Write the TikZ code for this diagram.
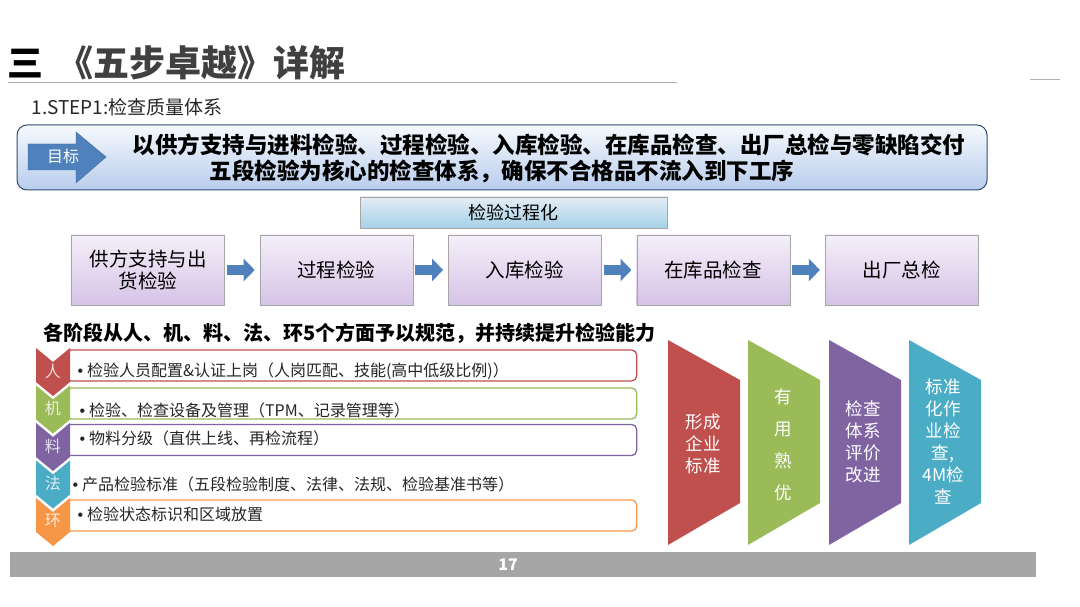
\documentclass[tikz,border=0pt]{standalone}
\usepackage{fontspec}
\setmainfont{Noto Sans CJK SC}
\newfontfamily\bulletfont{Liberation Sans}
\usepackage{xcolor}
\usepackage{tikz}
\usetikzlibrary{arrows.meta, positioning, calc}
\definecolor{StepBlue}{RGB}{79,129,189}
\definecolor{StepRed}{RGB}{192,80,77}
\definecolor{StepGreen}{RGB}{155,187,89}
\definecolor{StepPurple}{RGB}{128,100,162}
\definecolor{StepTeal}{RGB}{75,172,198}
\definecolor{StepOrange}{RGB}{247,150,70}
\definecolor{StepGray}{RGB}{166,166,166}
\definecolor{TitleGray}{RGB}{64,64,64}
\definecolor{GoalTop}{RGB}{246,249,253}
\definecolor{GoalBottom}{RGB}{184,205,236}
\definecolor{StageTop}{RGB}{244,239,249}
\definecolor{StageBottom}{RGB}{214,195,230}
\newcommand{\rowdot}{{\bulletfont •}\hspace{4pt}}

\begin{document}
\begin{tikzpicture}[x=1pt, y=-1pt,
  stagebox/.style={draw=black!35, top color=StageTop, bottom color=StageBottom,
    minimum width=153pt, minimum height=70pt, align=center,
    font=\fontsize{19.5}{22}\selectfont},
  flowarrow/.style={draw=StepBlue, line width=10pt,
    -{Triangle[length=11pt, width=22pt]}, shorten <=2pt, shorten >=5pt},
  rowbox/.style={draw=#1, line width=1.3pt, rounded corners=5pt, fill=white,
    minimum width=571pt, minimum height=31pt, anchor=west},
  rowtext/.style={anchor=west, font=\fontsize{16}{19}\selectfont, text=black!85},
  sidetext/.style={text=white, align=center, font=\fontsize{17.5}{22}\selectfont}
]
\useasboundingbox (0,0) rectangle (1080,607);

% title
\node[anchor=west, font=\fontsize{36}{40}\selectfont\bfseries, text=TitleGray] (title) at (4,63)
  {{\color{black}三}\hspace{14pt}《五步卓越》详解};
\draw[black!30, line width=1pt] (8,83) -- (677,83);
\draw[black!30, line width=1pt] (1030,80) -- (1060,80);
\node[anchor=west, font=\fontsize{19}{22}\selectfont, text=black!85] (step) at (28,107) {1.STEP1:检查质量体系};

% goal
\node[draw=black!40!StepBlue, line width=1pt, rounded corners=10pt, top color=GoalTop,
      bottom color=GoalBottom, minimum width=970pt, minimum height=65pt] (goal) at (502,157.5) {};
\fill[StepBlue, draw=black!20!StepBlue] (28,144) -- (76,144) -- (76,132) -- (106,157)
  -- (76,183) -- (76,170) -- (28,170) -- cycle;
\node[text=white, font=\fontsize{16}{18}\selectfont] (goaltag) at (63,156) {目标};
\node[font=\fontsize{22.5}{26}\selectfont\bfseries] (goalline1) at (549,145)
  {以供方支持与进料检验、过程检验、入库检验、在库品检查、出厂总检与零缺陷交付};
\node[font=\fontsize{22.5}{26}\selectfont\bfseries] (goalline2) at (502,171)
  {五段检验为核心的检查体系，确保不合格品不流入到下工序};

% process
\node[draw=black!35, top color=white!85!StepBlue, bottom color=white!60!StepBlue!90!cyan,
      minimum width=307pt, minimum height=31pt, font=\fontsize{18}{20}\selectfont] (proc) at (513.5,212.5) {检验过程化};
\node[stagebox] (s1) at (148,270) {供方支持与出\\货检验};
\node[stagebox, right=35pt of s1] (s2) {过程检验};
\node[stagebox, right=35pt of s2] (s3) {入库检验};
\node[stagebox, right=35pt of s3] (s4) {在库品检查};
\node[stagebox, right=35pt of s4] (s5) {出厂总检};
\foreach \a/\b in {s1/s2, s2/s3, s3/s4, s4/s5}
  \draw[flowarrow] (\a) -- (\b);

% 4M1E
\node[anchor=west, font=\fontsize{20}{24}\selectfont\bfseries] (scope) at (40,333)
  {各阶段从人、机、料、法、环5个方面予以规范，并持续提升检验能力};
\node[rowbox=StepRed] (r1) at (65,365.5) {};
\node[rowbox=StepGreen] (r2) at (65,403.5) {};
\node[rowbox=StepPurple] (r3) at (65,440) {};
\node[rowbox=StepOrange] (r5) at (65,515.5) {};
\foreach \c/\t/\top [count=\i] in {StepRed/人/348, StepGreen/机/385.5, StepPurple/料/423,
                                     StepTeal/法/460.5, StepOrange/环/498} {
  \fill[\c] (36,\top) -- (53,\top+14) -- (70,\top) -- (70,\top+34) -- (53,\top+48)
    -- (36,\top+34) -- cycle;
  \node[text=white, opacity=0.8, font=\fontsize{16}{18}\selectfont] (m\i) at (53,\top+23) {\t};
}
\node[rowtext] (t1) at (74,371) {\rowdot 检验人员配置\&认证上岗（人岗匹配、技能(高中低级比例)）};
\node[rowtext] (t2) at (76,410) {\rowdot 检验、检查设备及管理（TPM、记录管理等）};
\node[rowtext] (t3) at (76,438) {\rowdot 物料分级（直供上线、再检流程）};
\node[rowtext] (t4) at (69,484) {\rowdot 产品检验标准（五段检验制度、法律、法规、检验基准书等）};
\node[rowtext] (t5) at (74,514) {\rowdot 检验状态标识和区域放置};

% results
\foreach \c/\x in {StepRed/668, StepGreen/748, StepPurple/829, StepTeal/909}
  \fill[\c] (\x,340) -- (\x+72,380) -- (\x+72,503) -- (\x,545) -- cycle;
\node[sidetext] (g1) at (703,444) {形成\\企业\\标准};
\node[sidetext, font=\fontsize{17.5}{32}\selectfont] (g2) at (783,445) {有\\用\\熟\\优};
\node[sidetext] (g3) at (863,442) {检查\\体系\\评价\\改进};
\node[sidetext] (g4) at (943,442) {标准\\化作\\业检\\查,\\4M检\\查};

% footer
\fill[StepGray] (10,552) rectangle (1036,577);
\node[text=white, font=\fontsize{16}{18}\selectfont\bfseries] (page) at (508,565) {17};
\end{tikzpicture}
\end{document}
